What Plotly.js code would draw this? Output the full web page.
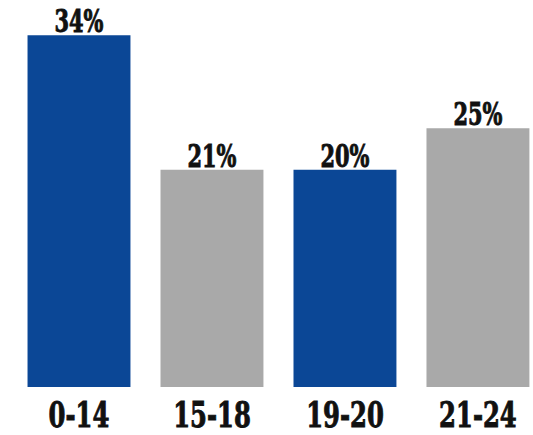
<!DOCTYPE html>
<html>
<head>
<meta charset="utf-8">
<script src="https://cdn.plot.ly/plotly-3.0.1.min.js"></script>
<style>
html,body{margin:0;padding:0;background:#fff;}
#chart{width:533px;height:435px;}
</style>
</head>
<body>
<div id="chart"></div>
<script>
var categories = ["0-14", "15-18", "19-20", "21-24"];
var barHeights = [34, 21, 21, 25];           // bar heights as drawn in the picture
var valueLabels = ["34%", "21%", "20%", "25%"];
var barColors = ["#0b4796", "#a9a9a9", "#0b4796", "#a9a9a9"];

var FONT = "'DejaVu Serif Condensed', 'DejaVu Serif', serif";

var trace = {
  type: "bar",
  x: categories,
  y: barHeights,
  text: valueLabels,
  textposition: "outside",
  cliponaxis: false,
  textfont: {family: FONT, size: 31, color: "#111", weight: "bold"},
  marker: {color: barColors, line: {width: 0}},
  hoverinfo: "none"
};

var layout = {
  width: 533, height: 435,
  margin: {l: 0, r: 0, t: 0, b: 48},
  paper_bgcolor: "#fff", plot_bgcolor: "#fff",
  showlegend: false,
  bargap: 0.226,
  xaxis: {
    type: "category",
    range: [-0.594, 3.414],
    showgrid: false, zeroline: false, showline: false,
    ticks: "",
    tickfont: {family: FONT, size: 36, color: "#111", weight: "bold"},
    ticklabelstandoff: 3
  },
  yaxis: {
    range: [0, 37.4],
    visible: false,
    showgrid: false, zeroline: false
  }
};

Plotly.newPlot("chart", [trace], layout, {staticPlot: true}).then(function () {
  var sx = 0.75;
  function squeeze(t, dy) {
    var x = parseFloat(t.getAttribute("x")) || 0;
    var y = parseFloat(t.getAttribute("y")) || 0;
    var tr = t.getAttribute("transform") || "";
    t.setAttribute("transform", tr + " translate(" + x + "," + (y + dy) + ") scale(" + sx + ",1) translate(" + (-x) + "," + (-y) + ")");
    t.style.stroke = "#111";
    t.style.strokeWidth = "0.9px";
  }
  document.querySelectorAll(".xtick text").forEach(function (t) { squeeze(t, 0); });
  document.querySelectorAll(".bartext").forEach(function (t) { squeeze(t, 7); });
});
</script>
</body>
</html>
